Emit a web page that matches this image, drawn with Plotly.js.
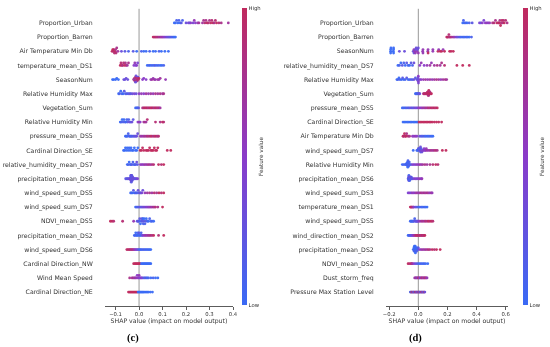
<!DOCTYPE html>
<html><head><meta charset="utf-8">
<script src="https://cdn.plot.ly/plotly-3.0.1.min.js"></script>
<style>html,body{margin:0;padding:0;background:#fff}#chart{width:550px;height:347px;will-change:transform;-webkit-font-smoothing:antialiased}
#chart text{text-rendering:geometricPrecision}</style>
</head><body><div id="chart"></div>
<script>
// ---------- Panel (c) ----------
const featuresC = ["Proportion_Urban","Proportion_Barren","Air Temperature Min Db","temperature_mean_DS1","SeasonNum",
 "Relative Humidity Max","Vegetation_Sum","Relative Humidity Min","pressure_mean_DS5","Cardinal Direction_SE",
 "relative_humidity_mean_DS7","precipitation_mean_DS6","wind_speed_sum_DS5","wind_speed_sum_DS7","NDVI_mean_DS5",
 "precipitation_mean_DS2","wind_speed_sum_DS6","Cardinal Direction_NW","Wind Mean Speed","Cardinal Direction_NE"];
const shapC = [
 [.150,.155,.160,.165,.170,.175,.180,.185,.200,.210,.215,.220,.230,.235,.240,.250,.255,.270,.275,.280,.285,.290,.295,.300,.305,.310,.315,.320,.325,.330,.340,.350,.380],
 [.06,.065,.07,.075,.08,.085,.09,.095,.10,.105,.11,.115,.12,.125,.13,.135,.14,.145,.15,.155],
 [-.115,-.112,-.11,-.108,-.105,-.102,-.1,-.098,-.095,-.09,-.075,-.06,-.045,-.025,-.01,.01,.02,.03,.045,.06,.07,.085,.095,.11,.125],
 [-.08,-.077,-.073,-.07,-.066,-.062,-.058,-.055,-.05,-.045,-.022,-.018,-.014,-.01,-.006,.035,.042,.048,.055,.062,.068,.075,.082,.09,.097,.105],
 [-.113,-.108,-.1,-.095,-.088,-.065,-.06,-.055,-.048,-.023,-.02,-.018,-.015,-.013,-.01,-.008,-.005,-.003,-.001,-.02,-.015,-.01,.015,.02,.03,.05,.055,.06,.065,.07,.08,.085,.09,.113],
 [-.087,-.083,-.078,-.073,-.068,-.063,-.058,-.052,-.046,-.04,-.035,-.028,-.02,-.012,0,.01,.02,.03,.04,.05,.06,.07,.08,.09,.1,.105],
 [-.015,-.01,-.006,-.002,.015,.02,.025,.03,.035,.04,.045,.05,.055,.06,.065,.07,.075,.08,.085,.09],
 [-.08,-.076,-.072,-.068,-.064,-.06,-.056,-.052,-.048,-.044,-.04,-.035,-.03,-.025,-.005,0,.005,.02,.025,.03,.035,.07,.09,.1,.105],
 [-.058,-.054,-.05,-.046,-.042,-.038,-.034,-.03,-.025,-.02,-.015,-.01,-.006,.006,.012,.018,.024,.03,.036,.042,.048,.054,.06,.066,.072,.078,.083],
 [-.066,-.062,-.058,-.054,-.05,-.046,-.042,-.038,-.034,-.03,-.025,-.02,-.015,-.01,-.005,.005,.01,.015,.02,.03,.035,.04,.045,.05,.055,.06,.065,.07,.075,.08,.12,.135],
 [-.05,-.046,-.042,-.038,-.034,-.03,-.026,-.022,-.018,-.014,-.01,-.007,.006,.012,.018,.024,.03,.036,.042,.048,.055,.062,.083,.095,.105],
 [-.057,-.052,-.048,-.044,-.04,-.038,-.036,-.036,-.035,-.035,-.034,-.034,-.033,-.033,-.033,-.032,-.032,-.031,-.031,-.03,-.03,-.029,-.028,-.027,-.025,-.022,-.019,-.015,-.011,-.006],
 [-.036,-.032,-.028,-.024,-.02,-.016,-.012,-.008,-.004,0,.004,.008,.012,.016,.025,.035,.045,.055,.065,.075,.085,.095,.105],
 [-.015,-.01,-.005,0,.005,.01,.015,.02,.025,.03,.035,.04,.045,.05,.055,.06,.065,.07,.08,.1],
 [-.122,-.115,-.108,-.07,-.023,-.008,-.004,0,.003,.006,.009,.012,.014,.016,.018,.02,.022,.025,.028,.031,.035,.04,.045,.05,.055,.062],
 [-.02,-.017,-.014,-.011,-.008,-.005,-.003,0,.003,.006,.009,.012,.015,.02,.025,.03,.035,.04,.045,.05,.056,.062,.083,.105],
 [-.052,-.047,-.042,-.038,-.034,-.03,-.026,-.022,-.018,-.014,-.01,-.006,-.002,.002,.006,.01,.015,.02,.025,.03,.035,.04,.045,.05],
 [-.023,-.018,-.014,-.01,-.006,-.002,.002,.005,.01,.014,.018,.022,.026,.03,.034,.038,.042,.046,.05],
 [-.04,-.03,-.025,-.02,-.016,-.012,-.008,-.005,-.002,0,.003,.006,.01,.014,.02,.025,.03,.035,.04,.05,.06,.07,.08],
 [-.045,-.04,-.036,-.032,-.028,-.024,-.02,-.016,-.012,-.008,-.004,0,.004,.008,.012,.016,.02,.025,.03,.035,.04,.048,.057]
];
const valsC = [
 [0,0,.1,0,.1,0,.2,.1,.3,.4,.3,.5,.4,.6,.5,.6,.7,.7,.8,.9,.8,1,.9,.8,1,.9,1,.8,.9,1,.9,.8,.7],
 [1,.9,1,.8,.9,.7,.8,.6,.7,.5,.5,.4,.3,.3,.2,.2,.1,.1,0,0],
 [1,1,.9,1,.9,1,.8,.9,.8,.7,.3,.2,.1,.2,0,.1,0,0,.1,0,0,.1,0,0,0],
 [1,.9,1,.8,.9,1,.8,.9,.7,.8,.5,.6,.4,.5,.4,0,.1,0,.1,0,.2,0,.1,0,0,.1],
 [0,0,0,0,0,.3,.3,.3,.3,.9,.3,.9,1,.3,.9,.8,.3,.9,1,.8,.3,.9,.5,.5,.5,.6,.7,.6,.7,.6,.7,.6,.7,.6],
 [0,.1,0,.1,0,.2,.1,.2,.1,.3,.2,.3,.4,.3,.5,.6,.5,.7,.6,.7,.6,.8,.7,.8,.7,.8],
 [0,.1,0,.2,.8,.9,1,.9,1,.8,1,.9,1,.9,.8,1,.9,.8,.9,.7],
 [0,.1,0,.1,0,.2,0,.1,.2,.1,.3,.2,.3,.2,.5,.6,.5,.7,.8,.7,.9,.9,.8,1,.9],
 [0,.1,0,.1,.2,0,.1,.2,.1,.3,.2,.3,.3,.6,.7,.6,.8,.7,.9,.8,.9,1,.8,.9,1,.8,.9],
 [0,0,0,0,0,0,0,0,0,0,0,0,0,0,0,1,1,1,1,1,1,1,1,1,1,1,1,1,1,1,1,1],
 [0,.1,0,.1,0,.2,.1,0,.2,.1,.3,.2,.5,.6,.5,.7,.6,.7,.8,.7,.8,.9,1,.9,1],
 [.2,.3,.1,.4,.2,.3,.5,.2,.3,.1,.4,.2,.3,.5,.2,.1,.3,.4,.2,.3,.1,.2,.4,.3,.2,.4,.3,.2,.3,.4],
 [0,.1,0,.2,.1,0,.2,.1,.3,.2,.3,.2,.4,.3,.6,.7,.8,.7,.9,.8,1,.9,1],
 [0,.1,.2,.1,.3,.2,.3,.4,.3,.5,.4,.6,.5,.7,.6,.8,.7,.9,.8,1],
 [1,1,.9,.9,.6,.2,.3,.1,.2,0,.1,.3,.2,0,.1,.2,0,.1,.2,0,.1,0,.1,0,.1,0],
 [0,.1,0,.1,0,.1,0,.2,.1,0,.1,.2,.3,.5,.6,.7,.6,.8,.7,.9,.8,1,.9,1],
 [1,.9,1,.9,.8,.9,.8,.7,.6,.5,.4,.3,.2,.1,0,.1,0,.2,0,.1,0,.1,0,0],
 [1,1,1,1,1,1,1,1,0,0,0,0,0,0,0,0,0,0,0],
 [.8,.7,.8,.6,.7,.6,.5,.6,.5,.6,.5,.4,.5,.4,.2,.1,.2,0,.1,0,.1,0,0],
 [1,1,1,1,1,1,1,1,1,1,0,0,0,0,0,0,0,0,0,0,0,0,0]
];

// ---------- Panel (d) ----------
const featuresD = ["Proportion_Urban","Proportion_Barren","SeasonNum","relative_humidity_mean_DS7","Relative Humidity Max",
 "Vegetation_Sum","pressure_mean_DS5","Cardinal Direction_SE","Air Temperature Min Db","wind_speed_sum_DS7",
 "Relative Humidity Min","precipitation_mean_DS6","wind_speed_sum_DS3","temperature_mean_DS1","wind_speed_sum_DS5",
 "wind_direction_mean_DS2","precipitation_mean_DS2","NDVI_mean_DS2","Dust_storm_freq","Pressure Max Station Level"];
const shapD = [
 [.305,.31,.315,.325,.335,.35,.37,.42,.43,.44,.45,.46,.47,.48,.49,.51,.52,.53,.54,.55,.555,.56,.565,.57,.575,.58,.585,.59,.6,.61,.62,.63],
 [.195,.2,.205,.21,.215,.22,.23,.24,.25,.26,.27,.28,.29,.3,.31,.32,.33,.34,.35,.365],
 [-.19,-.19,-.19,-.188,-.172,-.17,-.17,-.17,-.13,-.095,-.035,-.03,-.03,-.025,-.02,-.02,-.015,-.01,-.005,0,0,.03,.032,.032,.065,.067,.067,.1,.1,.135,.14,.15,.16,.17,.18,.215,.225,.24],
 [-.14,-.13,-.12,-.11,-.1,-.09,-.08,-.07,-.06,-.05,-.04,-.03,.01,.02,.04,.06,.08,.09,.11,.13,.15,.16,.18,.265,.305,.35],
 [-.147,-.14,-.133,-.126,-.115,-.108,-.1,-.09,-.08,-.07,-.06,-.05,-.04,-.03,-.02,-.01,0,.01,.02,.035,.05,.065,.08,.095,.11,.125,.14,.155,.17,.185,.195,-.003,-.002,0,.001],
 [-.02,-.015,-.01,-.005,0,.005,.01,.035,.04,.045,.05,.055,.06,.062,.065,.068,.07,.072,.075,.078,.08,.085,.09,.063,.066,.069,.071,.074],
 [-.11,-.1,-.09,-.08,-.07,-.06,-.05,-.04,-.03,-.02,-.01,0,.01,.02,.03,.04,.05,.06,.07,.08,.09,.1,.11,.12,.13],
 [-.105,-.095,-.085,-.075,-.065,-.055,-.045,-.035,-.025,-.015,-.005,.005,.015,.025,.035,.045,.055,.065,.075,.085,.095,.11,.125,.14,.16],
 [-.105,-.1,-.095,-.09,-.085,-.08,-.07,-.06,-.04,-.03,-.02,-.01,.01,.02,.03,.04,.05,.06,.07,.08,.09,.1],
 [-.035,-.01,-.005,0,.005,.01,.015,.02,.025,.03,.035,.04,.045,.05,.055,.06,.07,.08,.09,.1,.11,.12,.13,.165,.19,.005,.01,.015,.02],
 [-.11,-.1,-.09,-.085,-.08,-.077,-.074,-.071,-.068,-.065,-.062,-.058,-.05,-.04,-.03,-.02,-.01,0,.01,.02,.03,.045,.06,.08,.1,.12,.135,-.078,-.075,-.072,-.069],
 [-.07,-.068,-.066,-.064,-.062,-.06,-.058,-.056,-.054,-.052,-.05,-.048,-.045,-.04,-.03,-.02,-.01,0,.01,.02,.025,-.067,-.065,-.063,-.061,-.059],
 [-.07,-.06,-.05,-.04,-.03,-.02,-.01,0,.01,.02,.03,.04,.05,.06,.07,.08,.09,.095],
 [-.055,-.05,-.045,-.04,-.035,-.03,-.02,-.01,0,.01,.02,.03,.04,.05,.06],
 [-.055,-.05,-.045,-.04,-.035,-.03,-.025,-.02,-.015,-.01,-.005,0,.01,.02,.03,.04,.05,.06,.07,.08,.09,.1],
 [-.07,-.065,-.06,-.055,-.05,-.045,-.04,-.035,-.03,-.025,-.02,-.015,-.01,-.005,0,.005,.01,.015,.02,.025,.03,.035,.04,.045],
 [-.035,-.03,-.027,-.024,-.021,-.018,-.015,-.012,-.009,-.006,-.003,0,.01,.02,.03,.04,.05,.06,.07,.08,.095,.11,.125,.15,-.03,-.028,-.025,-.022,-.02],
 [-.07,-.06,-.05,-.045,-.04,-.03,-.02,-.01,0,.01,.02,.03,.04,.05,.065],
 [-.025,-.02,-.015,-.01,-.005,0,.005,.01,.015,.02,.025,.03,.035,.04,.045,.05,.055,.06],
 [-.055,-.05,-.045,-.04,-.035,-.03,-.025,-.02,-.015,-.01,-.005,0,.005,.01,.015,.02,.025,.03,.035,.04,.045]
];
const valsD = [
 [0,.1,0,.1,0,.1,.2,.4,.3,.5,.4,.5,.6,.5,.6,.8,.9,.8,1,.9,1,.8,1,.9,1,.8,.9,1,.9,.8,.9,.8],
 [1,.9,1,.9,.8,.9,.8,.7,.6,.4,.3,.2,.1,0,.1,0,.1,0,0,.1],
 [0,0,0,0,0,0,0,0,.3,.3,.3,.6,.3,.6,.3,.6,.3,.6,.3,.6,.3,.6,.6,.6,.6,.6,1,.6,.6,1,.6,1,1,.6,1,1,1,1],
 [0,.1,0,.2,.1,0,.2,.1,0,.2,.1,.3,.5,.6,.5,.6,.7,.6,.7,.8,.7,.8,.9,1,1,1],
 [0,.1,0,.1,0,.2,0,.1,.2,0,.1,.2,.1,.3,.2,.3,.5,.6,.5,.6,.7,.6,.7,.6,.7,.8,.7,.6,.7,.8,.7,.3,.3,.5,.4],
 [0,.1,0,.2,.1,.2,.3,.8,.9,1,.9,1,.8,1,.9,1,.8,1,.9,1,.8,.9,1,1,.9,1,.8,1],
 [0,.1,0,.2,.1,.2,.3,.2,.3,.4,.3,.5,.6,.5,.7,.6,.8,.7,.9,.8,1,.9,1,.9,1],
 [0,0,0,0,0,0,0,0,0,0,0,1,1,1,1,1,1,1,1,1,1,1,1,1,1],
 [1,.9,1,.9,1,.8,.9,.8,.6,.5,.6,.5,.3,.2,.1,.2,0,.1,0,.1,0,0],
 [0,.1,0,.2,.1,.3,.2,.4,.3,.5,.4,.5,.6,.5,.6,.7,.6,.7,.8,.7,.8,.9,.8,1,1,.2,.1,.3,.2],
 [0,.1,0,.1,0,.2,0,.1,0,.2,.1,0,.2,.4,.5,.4,.6,.5,.7,.6,.7,.8,.7,.8,.9,1,.9,0,.1,0,.1],
 [.2,.1,.3,.2,.1,.3,.2,.1,.2,.3,.1,.2,.3,.2,.4,.5,.4,.5,.6,.5,.6,.2,.1,.3,.2,.1],
 [.4,.5,.4,.6,.5,.6,.7,.6,.7,.8,.7,.8,.7,.8,.7,.6,.7,.6],
 [1,.9,1,.8,.7,.5,.3,.2,.1,0,.1,0,.1,0,0],
 [0,.1,0,.1,0,.2,.1,.2,.3,.2,.3,.4,.6,.7,.8,.7,.9,.8,1,.9,1,.9],
 [0,.1,0,.2,.3,.2,.4,.5,.6,.7,.8,.9,1,.9,1,.8,1,.9,.8,.9,1,.8,.9,1],
 [0,.1,0,.1,0,.1,0,.2,.1,0,.1,.2,.5,.6,.7,.6,.8,.7,.9,.8,1,.9,1,1,0,.1,0,.1,0],
 [1,.9,1,.8,.7,.5,.3,.2,.1,0,.1,0,.1,0,0],
 [.6,.7,.8,.3,.7,.9,.6,.8,.3,.7,.9,.8,.6,.7,.9,.8,.7,.6],
 [0,.9,.1,1,.2,.8,0,1,.3,.9,.1,.8,.2,1,0,.9,.2,.8,.1,.9,.3]
];

const xTicksC = [-0.1, 0.0, 0.1, 0.2, 0.3, 0.4];
const xTicksD = [-0.2, 0.0, 0.2, 0.4, 0.6];

// SHAP-style beeswarm vertical layout (bin, then stack alternately up/down)
function swarm(vals, nbins){
  const n = vals.length;
  const mn = Math.min(...vals), mx = Math.max(...vals);
  const q = vals.map(v => Math.round(nbins*(v-mn)/(mx-mn+1e-8)));
  const idx = [...Array(n).keys()].sort((a,b)=> q[a]-q[b] || vals[a]-vals[b] || a-b);
  let layer = 0, last = -1; const ys = new Array(n).fill(0);
  for (const i of idx){
    if (q[i] !== last) layer = 0;
    ys[i] = Math.ceil(layer/2) * ((layer%2)*2-1);
    layer++; last = q[i];
  }
  const m = Math.max(...ys.map(y=>y+1));
  return ys.map(y => y*0.9*(0.4/m));
}

function buildTrace(features, shaps, vals, xa, ya, cax){
  const n = features.length; const X=[], Y=[], Cc=[];
  features.forEach((f,i)=>{
    const s = shaps[i], v = vals[i];
    const off = swarm(s, 28);
    s.forEach((sv,j)=>{ X.push(sv); Y.push(n-1-i+off[j]); Cc.push(v[j]===undefined?0.5:v[j]); });
  });
  return {type:'scatter', mode:'markers', x:X, y:Y, xaxis:xa, yaxis:ya, cliponaxis:false, hoverinfo:'skip',
          marker:{size:2.8, color:Cc, coloraxis:cax, line:{width:0}, opacity:0.95}};
}

const colorscale = [[0,'#3a6af5'],[0.5,'#8a3bc9'],[1,'#c02a5e']];
const yDom = [1-306.2/347, 1-8.8/347];
function fnt(size){ return {family:'DejaVu Sans, sans-serif', size:size, color:'#333333'}; }

function xAxis(dom, range, ticks, anchor){
  return {domain:dom, range:range, anchor:anchor, tickvals:ticks, tickformat:'.1f', ticks:'outside', ticklen:3,
    tickwidth:0.8, tickcolor:'#333333', showline:true, linecolor:'#333333', linewidth:0.8, showgrid:false, zeroline:false,
    tickfont:fnt(5.3), color:'#333333', title:{text:'SHAP value (impact on model output)', font:fnt(6.2), standoff:0}, fixedrange:true};
}
function yAxis(features, anchor){
  const n = features.length;
  return {domain:yDom, range:[-1,n], anchor:anchor, tickmode:'array', tickvals:features.map((f,i)=>n-1-i), ticktext:features.slice(),
    showgrid:false, zeroline:false, showline:false, ticks:'outside', ticklen:10, tickcolor:'rgba(0,0,0,0)',
    color:'#333333', tickfont:fnt(6.2), fixedrange:true};
}
function cbar(xpx){
  return {x:xpx/550, xanchor:'left', y:1-8/347, yanchor:'top', len:297/347, lenmode:'fraction', thickness:5,
    thicknessmode:'pixels', outlinewidth:0, tickvals:[0,1], ticktext:['Low','High'], ticks:'', xpad:0, ypad:0,
    tickfont:fnt(5.3), title:{text:'Feature value', side:'right', font:fnt(5.7)}};
}

const data = [
  buildTrace(featuresC, shapC, valsC, 'x', 'y', 'coloraxis'),
  buildTrace(featuresD, shapD, valsD, 'x2', 'y2', 'coloraxis2')
];

const layout = {
  width:550, height:347, margin:{l:0,r:0,t:0,b:0}, paper_bgcolor:'#ffffff', plot_bgcolor:'rgba(0,0,0,0)', showlegend:false,
  font:fnt(6.2),
  xaxis: xAxis([105/550, 233/550], [-0.145, 0.4], xTicksC, 'y'),
  yaxis: yAxis(featuresC, 'x'),
  xaxis2: xAxis([386/550, 508/550], [-0.222, 0.616], xTicksD, 'y2'),
  yaxis2: yAxis(featuresD, 'x2'),
  coloraxis:{colorscale:colorscale, cmin:0, cmax:1, colorbar:cbar(242)},
  coloraxis2:{colorscale:colorscale, cmin:0, cmax:1, colorbar:cbar(523)},
  shapes:[
    {type:'line', xref:'x', yref:'paper', x0:0, x1:0, y0:yDom[0], y1:yDom[1], line:{color:'#999999', width:1}, layer:'below'},
    {type:'line', xref:'x2', yref:'paper', x0:0, x1:0, y0:yDom[0], y1:yDom[1], line:{color:'#999999', width:1}, layer:'below'}
  ],
  annotations:[
    {text:'<b>(c)</b>', xref:'paper', yref:'paper', x:133/550, y:1-338/347, showarrow:false, xanchor:'center', yanchor:'middle',
     font:{family:'Liberation Serif, serif', size:10.5, color:'#000000'}},
    {text:'<b>(d)</b>', xref:'paper', yref:'paper', x:415/550, y:1-338/347, showarrow:false, xanchor:'center', yanchor:'middle',
     font:{family:'Liberation Serif, serif', size:10.5, color:'#000000'}}
  ]
};

Plotly.newPlot('chart', data, layout, {displayModeBar:false, staticPlot:true});
</script>
</body></html>
